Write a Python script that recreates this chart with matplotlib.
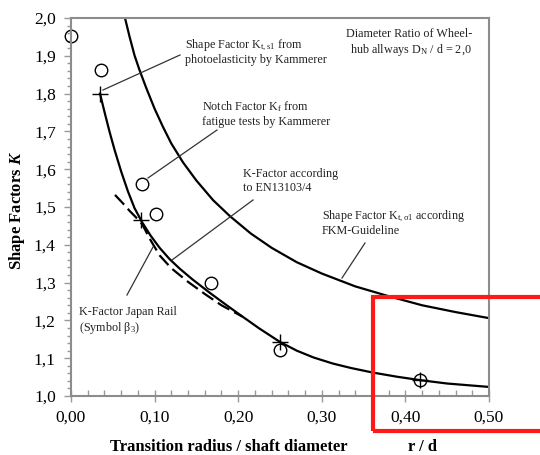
import matplotlib
matplotlib.use('Agg')
import matplotlib.pyplot as plt
from matplotlib.ticker import MultipleLocator, FuncFormatter
from matplotlib.patches import Rectangle

plt.rcParams['font.family'] = ['Liberation Serif', 'DejaVu Serif']
plt.rcParams['mathtext.fontset'] = 'custom'
plt.rcParams['mathtext.rm'] = 'Liberation Serif'
plt.rcParams['mathtext.it'] = 'Liberation Serif:italic'
plt.rcParams['mathtext.bf'] = 'Liberation Serif:bold'
plt.rcParams['mathtext.bfit'] = 'Liberation Serif:italic:bold'

# Formzahl nach FKM-Richtlinie (obere Kurve)
fkm_x = [0.0646, 0.070, 0.076, 0.082, 0.090, 0.100, 0.110, 0.120, 0.134, 0.150, 0.170,
         0.190, 0.215, 0.240, 0.270, 0.300, 0.340, 0.380, 0.420, 0.460, 0.500]
fkm_k = [2.000, 1.951, 1.901, 1.862, 1.815, 1.760, 1.712, 1.668, 1.618, 1.570, 1.518,
         1.476, 1.430, 1.392, 1.354, 1.324, 1.290, 1.264, 1.240, 1.222, 1.206]

# K-Faktor nach EN13103/4 (untere Kurve)
en_x = [0.0347, 0.040, 0.046, 0.052, 0.060, 0.068, 0.076, 0.085, 0.095, 0.106, 0.118,
        0.130, 0.145, 0.166, 0.185, 0.202, 0.225, 0.250, 0.270, 0.290, 0.313, 0.335,
        0.361, 0.390, 0.4175, 0.450, 0.500]
en_k = [1.800, 1.752, 1.700, 1.652, 1.594, 1.542, 1.497, 1.460, 1.425, 1.392, 1.362,
        1.337, 1.309, 1.273, 1.242, 1.215, 1.179, 1.143, 1.120, 1.102, 1.086, 1.074,
        1.062, 1.051, 1.042, 1.033, 1.024]

# K-Faktor Japan Rail (gestrichelt)
jr_x = [0.0526, 0.062, 0.070, 0.078, 0.085, 0.095, 0.106, 0.120, 0.140, 0.160, 0.180, 0.205]
jr_k = [1.532, 1.510, 1.490, 1.472, 1.455, 1.413, 1.372, 1.338, 1.302, 1.270, 1.240, 1.210]

# Kerbwirkungszahl Kf aus Dauerversuchen (Kreise)
kf_x = [0.000, 0.0359, 0.0849, 0.1017, 0.167, 0.250, 0.417]
kf_k = [1.952, 1.862, 1.561, 1.481, 1.300, 1.122, 1.042]

# Formzahl Kt,s1 aus Spannungsoptik (Kreuze)
kt_x = [0.0347, 0.0835, 0.250, 0.417]
kt_k = [1.800, 1.466, 1.143, 1.042]

xticks = [0.0, 0.1, 0.2, 0.3, 0.4, 0.5]
yticks = [1.0, 1.1, 1.2, 1.3, 1.4, 1.5, 1.6, 1.7, 1.8, 1.9, 2.0]

W, H = 540, 455
L, R, T, B = 71, 489, 18, 396


def px(x, y):
    # Pixel im Bild -> Datenkoordinaten
    return (x - L) / (R - L) * 0.5, 2.0 - (y - T) / (B - T)


fig = plt.figure(figsize=(W / 100, H / 100), dpi=100)
ax = fig.add_axes([L / W, 1 - B / H, (R - L) / W, (B - T) / H])

ax.plot(fkm_x, fkm_k, color='black', lw=1.6)
ax.plot(en_x, en_k, color='black', lw=1.6)
ax.plot(jr_x, jr_k, color='black', lw=1.6, ls=(0, (6, 2.5)))
ax.plot(kf_x, kf_k, ls='none', marker='o', ms=9, mfc='none', mec='black', mew=1.0, clip_on=False)
ax.plot(kt_x, kt_k, ls='none', marker='+', ms=12, mec='black', mew=1.0)

ax.set_xlim(0, 0.5)
ax.set_ylim(1.0, 2.0)
ax.set_xticks(xticks)
ax.set_yticks(yticks)
ax.xaxis.set_minor_locator(MultipleLocator(0.02))
ax.yaxis.set_minor_locator(MultipleLocator(0.02))
ax.xaxis.set_major_formatter(FuncFormatter(lambda v, p: f'{v:.2f}'.replace('.', ',')))
ax.yaxis.set_major_formatter(FuncFormatter(lambda v, p: f'{v:.1f}'.replace('.', ',')))
ax.tick_params(axis='x', which='major', direction='inout', length=8, width=1, color='#999999',
               labelsize=12.5, pad=6)
ax.tick_params(axis='x', which='minor', direction='in', length=4, width=1, color='#999999')
ax.tick_params(axis='y', which='major', direction='out', length=5, width=1, color='#999999',
               labelsize=12.5, pad=6)
ax.tick_params(axis='y', which='minor', direction='out', length=3, width=1, color='#999999')
for s in ax.spines.values():
    s.set_color('#8c8c8c')
    s.set_linewidth(1.5)

fs = 8.7
notes = [
    (185, 45, 'Shape Factor K$_{\\mathrm{t,s1}}$ from\nphotoelasticity by Kammerer', 'left'),
    (202, 107, 'Notch Factor K$_{\\mathrm{f}}$ from\nfatigue tests by Kammerer', 'left'),
    (243, 176, 'K-Factor according\nto EN13103/4', 'left'),
    (322, 216, 'Shape Factor K$_{\\mathrm{t,\\sigma 1}}$ according\nFKM-Guideline', 'left'),
    (79, 314, 'K-Factor Japan Rail\n(Symbol β$_{3}$)', 'left'),
    (472, 36, 'Diameter Ratio of Wheel-\nhub allways D$_{\\mathrm{N}}$ / d = 2,0', 'right'),
]
for x, y, s, ha in notes:
    dx, dy = px(x, y)
    ax.text(dx, dy + 0.02, s, ha=ha, va='top', fontsize=fs, color='#222222', linespacing=1.15)

leaders = [
    ((180, 55), (103, 90)),
    ((217, 130), (148, 178)),
    ((253, 200), (172, 260)),
    ((365, 243), (342, 278)),
    ((127, 295), (153, 247)),
]
for a, b in leaders:
    x0, y0 = px(*a)
    x1, y1 = px(*b)
    ax.plot([x0, x1], [y0, y1], color='#333333', lw=0.9)

fig.text(17 / W, 1 - 210 / H, 'Shape Factors $\\mathbfit{K}$', rotation=90, ha='center', va='center',
         fontsize=12, fontweight='bold')
fig.text(110 / W, 1 - 447 / H, 'Transition radius / shaft diameter', ha='left', va='center',
         fontsize=12, fontweight='bold')
fig.text(408 / W, 1 - 447 / H, 'r / d', ha='left', va='center', fontsize=12, fontweight='bold')

fig.patches.append(Rectangle((373 / W, 1 - 431 / H), 200 / W, 134 / H, transform=fig.transFigure,
                             fill=False, ec='#ff1a1a', lw=3))

fig.savefig('out.png', dpi=100)
